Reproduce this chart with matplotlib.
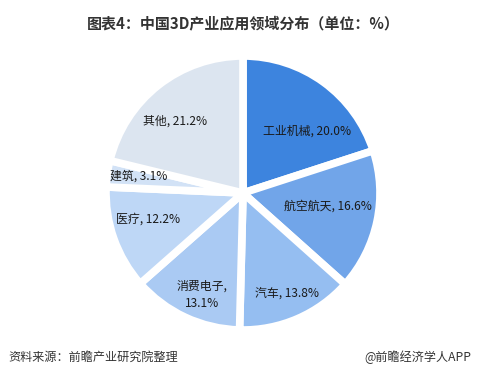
import numpy as np
import matplotlib
matplotlib.use("Agg")
import matplotlib.pyplot as plt

plt.rcParams['font.family'] = ['Noto Sans CJK SC', 'DejaVu Sans']

title = "图表4：中国3D产业应用领域分布（单位：%）"
categories = ["工业机械", "航空航天", "汽车", "消费电子", "医疗", "建筑", "其他"]
values = [20.0, 16.6, 13.8, 13.1, 12.2, 3.1, 21.2]
colors = ["#3D84DE", "#71A5E9", "#95BEF1", "#AACAF3", "#BED7F6", "#D2E2F6", "#DCE5F0"]
source = "资料来源：前瞻产业研究院整理"
brand = "@前瞻经济学人APP"

fig = plt.figure(figsize=(4.8, 3.78), dpi=100)
# pie axes: center (243,193) px, radius ~137 px
cx, cy, r = 243, 193, 137
W, H = 480, 378
ax = fig.add_axes([(cx - r) / W, 1 - (cy + r) / H, 2 * r / W, 2 * r / H])
wedges, _ = ax.pie(values, colors=colors, startangle=90, counterclock=False,
                   radius=1.0,
                   wedgeprops=dict(edgecolor="white", linewidth=5.5))
ax.set_xlim(-1, 1)
ax.set_ylim(-1, 1)
ax.set_aspect('equal')
ax.axis('off')

label_r = [0.65, 0.63, 0.80, 0.80, 0.72, 0.77, 0.72]
label_shift = [-10, 3, 0, 3, -4, -1, 5]
for w, cat, v, lr, sh in zip(wedges, categories, values, label_r, label_shift):
    ang = np.deg2rad((w.theta1 + w.theta2) / 2 + sh)
    x, y = lr * np.cos(ang), lr * np.sin(ang)
    if cat == "消费电子":
        txt = f"{cat},\n{v:.1f}%"
    else:
        txt = f"{cat}, {v:.1f}%"
    ax.text(x, y, txt, ha='center', va='center', fontsize=8.6,
            color="#1a1a1a", linespacing=1.45)

fig.text(0.506, 1 - 23 / H, title, ha='center', va='center',
         fontsize=10.8, fontweight='bold', color="#333333")
fig.text(8 / W, 1 - 357 / H, source, ha='left', va='center',
         fontsize=8.7, color="#333333", style='italic')
fig.text(471 / W, 1 - 357 / H, brand, ha='right', va='center',
         fontsize=8.7, color="#333333")

fig.savefig("out.png", dpi=100, facecolor="white")
